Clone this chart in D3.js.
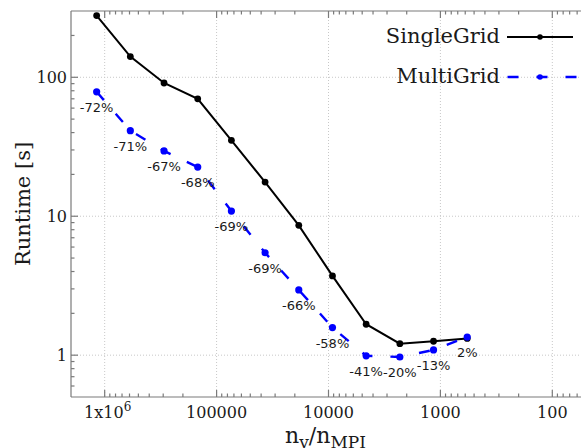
<!DOCTYPE html>
<html>
<head>
<meta charset="utf-8">
<script src="https://cdn.jsdelivr.net/npm/d3@7"></script>
<style>
  body { margin: 0; background: #fff; }
  text { font-family: "DejaVu Serif", serif; fill: #1a1a1a; }
  .pct { font-family: "DejaVu Sans", sans-serif; font-size: 13px; }
</style>
</head>
<body>
<div id="chart"></div>
<script>
var nPoints = [1179648, 589824, 294912, 147456, 73728, 36864, 18432, 9216, 4608, 2304, 1152, 576]
var singleGrid = [278, 141, 91, 70, 35.2, 17.6, 8.6, 3.72, 1.67, 1.21, 1.26, 1.32]
var multiGrid = [78.6, 41.3, 29.5, 22.6, 10.9, 5.46, 2.95, 1.58, 0.99, 0.97, 1.09, 1.35]
var reduction = ["-72%", "-71%", "-67%", "-68%", "-69%", "-69%", "-66%", "-58%", "-41%", "-20%", "-13%", "2%"]
var xMajor = [1e6, 1e5, 1e4, 1e3, 100]
var xTickLabels = ["1x10^6", "100000", "10000", "1000", "100"]
var yMajor = [1, 10, 100]
var yTickLabels = ["1", "10", "100"]

var draw = function () {
  var width = 581, height = 448
  var pl = 71, pt = 11, pb = 397, pr = 586

  var svg = d3.select("#chart").append("svg")
    .attr("width", width)
    .attr("height", height)

  var x = d3.scaleLog().domain([2e6, 50]).range([pl, pr])
  var y = d3.scaleLog().domain([0.5, 300]).range([pb, pt])

  // minor ticks 2..9 per decade
  var xMinor = []
  for (var e = 1; e <= 6; e++) {
    for (var m = 2; m <= 9; m++) {
      var v = m * Math.pow(10, e)
      if (v < 2e6 && v > 50) xMinor.push(v)
    }
  }
  var yMinor = []
  for (var e = -1; e <= 2; e++) {
    for (var m = 2; m <= 9; m++) {
      var v = m * Math.pow(10, e)
      if (v > 0.5 && v < 300) yMinor.push(v)
    }
  }

  // grid
  var grid = svg.append("g")
    .attr("stroke", "#c8c8c8")
    .attr("stroke-width", 1)
    .attr("stroke-dasharray", "1,2")
  grid.selectAll(".gx").data(xMajor).join("line")
    .attr("class", "gx")
    .attr("x1", d => x(d)).attr("x2", d => x(d))
    .attr("y1", pt).attr("y2", pb)
  grid.selectAll(".gy").data(yMajor).join("line")
    .attr("class", "gy")
    .attr("x1", pl).attr("x2", pr)
    .attr("y1", d => y(d)).attr("y2", d => y(d))

  // borders + ticks
  var ax = svg.append("g").attr("stroke", "#7a7a7a").attr("stroke-width", 1.2)
  ax.append("line").attr("x1", pl).attr("x2", pr).attr("y1", pt).attr("y2", pt)
  ax.append("line").attr("x1", pl).attr("x2", pr).attr("y1", pb).attr("y2", pb)
  ax.append("line").attr("x1", pl).attr("x2", pl).attr("y1", pt).attr("y2", pb)

  var xt = xMajor.map(d => ({v: d, len: 7})).concat(xMinor.map(d => ({v: d, len: 3.5})))
  ax.selectAll(".xtb").data(xt).join("line")
    .attr("class", "xtb")
    .attr("x1", d => x(d.v)).attr("x2", d => x(d.v))
    .attr("y1", pb).attr("y2", d => pb - d.len)
  ax.selectAll(".xtt").data(xt).join("line")
    .attr("class", "xtt")
    .attr("x1", d => x(d.v)).attr("x2", d => x(d.v))
    .attr("y1", pt).attr("y2", d => pt + d.len)

  var yt = yMajor.map(d => ({v: d, len: 7})).concat(yMinor.map(d => ({v: d, len: 3.5})))
  ax.selectAll(".ytl").data(yt).join("line")
    .attr("class", "ytl")
    .attr("x1", pl).attr("x2", d => pl + d.len)
    .attr("y1", d => y(d.v)).attr("y2", d => y(d.v))

  // tick labels
  var xl = svg.append("g").attr("font-size", 16).attr("text-anchor", "middle")
  xTickLabels.forEach(function (lab, i) {
    var t = xl.append("text")
      .attr("x", x(xMajor[i]))
      .attr("y", pb + 21)
    var parts = lab.split("^")
    t.append("tspan").text(parts[0])
    if (parts[1]) {
      t.append("tspan").attr("dy", -7).attr("font-size", 12).text(parts[1])
      t.attr("x", x(xMajor[i]) + 3)
    }
  })

  svg.append("g").attr("font-size", 16).attr("text-anchor", "end")
    .selectAll("text").data(yMajor).join("text")
    .attr("x", pl - 4)
    .attr("y", d => y(d) + 6)
    .text((d, i) => yTickLabels[i])

  // axis titles
  svg.append("text")
    .attr("transform", "translate(30," + ((pt + pb) / 2) + ") rotate(-90)")
    .attr("text-anchor", "middle")
    .attr("font-size", 21)
    .text("Runtime [s]")

  var xTitle = svg.append("text")
    .attr("x", (pl + pr) / 2 - 3)
    .attr("y", 443)
    .attr("text-anchor", "middle")
    .attr("font-size", 22)
  xTitle.append("tspan").text("n")
  xTitle.append("tspan").attr("dy", 5).attr("font-size", 17).text("y")
  xTitle.append("tspan").attr("dy", -5).text("/n")
  xTitle.append("tspan").attr("dy", 5).attr("font-size", 17).text("MPI")

  // series
  var line = d3.line()
    .x((d, i) => x(nPoints[i]))
    .y(d => y(d))

  svg.append("path")
    .datum(singleGrid)
    .attr("d", line)
    .attr("fill", "none")
    .attr("stroke", "#000")
    .attr("stroke-width", 2)

  svg.append("path")
    .datum(multiGrid)
    .attr("d", line)
    .attr("fill", "none")
    .attr("stroke", "#0000ff")
    .attr("stroke-width", 2.4)
    .attr("stroke-dasharray", "11,18")

  svg.append("g").attr("fill", "#000")
    .selectAll("circle").data(singleGrid).join("circle")
    .attr("cx", (d, i) => x(nPoints[i]))
    .attr("cy", d => y(d))
    .attr("r", 3.4)

  svg.append("g").attr("fill", "#0000ff")
    .selectAll("circle").data(multiGrid).join("circle")
    .attr("cx", (d, i) => x(nPoints[i]))
    .attr("cy", d => y(d))
    .attr("r", 3.6)

  svg.append("g")
    .selectAll("text").data(multiGrid).join("text")
    .attr("class", "pct")
    .attr("text-anchor", "middle")
    .attr("x", (d, i) => x(nPoints[i]))
    .attr("y", d => y(d) + 20)
    .text((d, i) => reduction[i])

  // legend
  var legend = svg.append("g").attr("font-size", 21)
  legend.append("text").attr("x", 500).attr("y", 43).attr("text-anchor", "end").text("SingleGrid")
  legend.append("line").attr("x1", 507).attr("x2", 573).attr("y1", 37).attr("y2", 37)
    .attr("stroke", "#000").attr("stroke-width", 2)
  legend.append("circle").attr("cx", 540).attr("cy", 37).attr("r", 2.8).attr("fill", "#000")

  legend.append("text").attr("x", 500).attr("y", 83).attr("text-anchor", "end").text("MultiGrid")
  legend.append("line").attr("x1", 507.5).attr("x2", 590).attr("y1", 77).attr("y2", 77)
    .attr("stroke", "#0000ff").attr("stroke-width", 2.4).attr("stroke-dasharray", "11,18")
  legend.append("circle").attr("cx", 540).attr("cy", 77).attr("r", 2.8).attr("fill", "#0000ff")
}

draw()
</script>
</body>
</html>
